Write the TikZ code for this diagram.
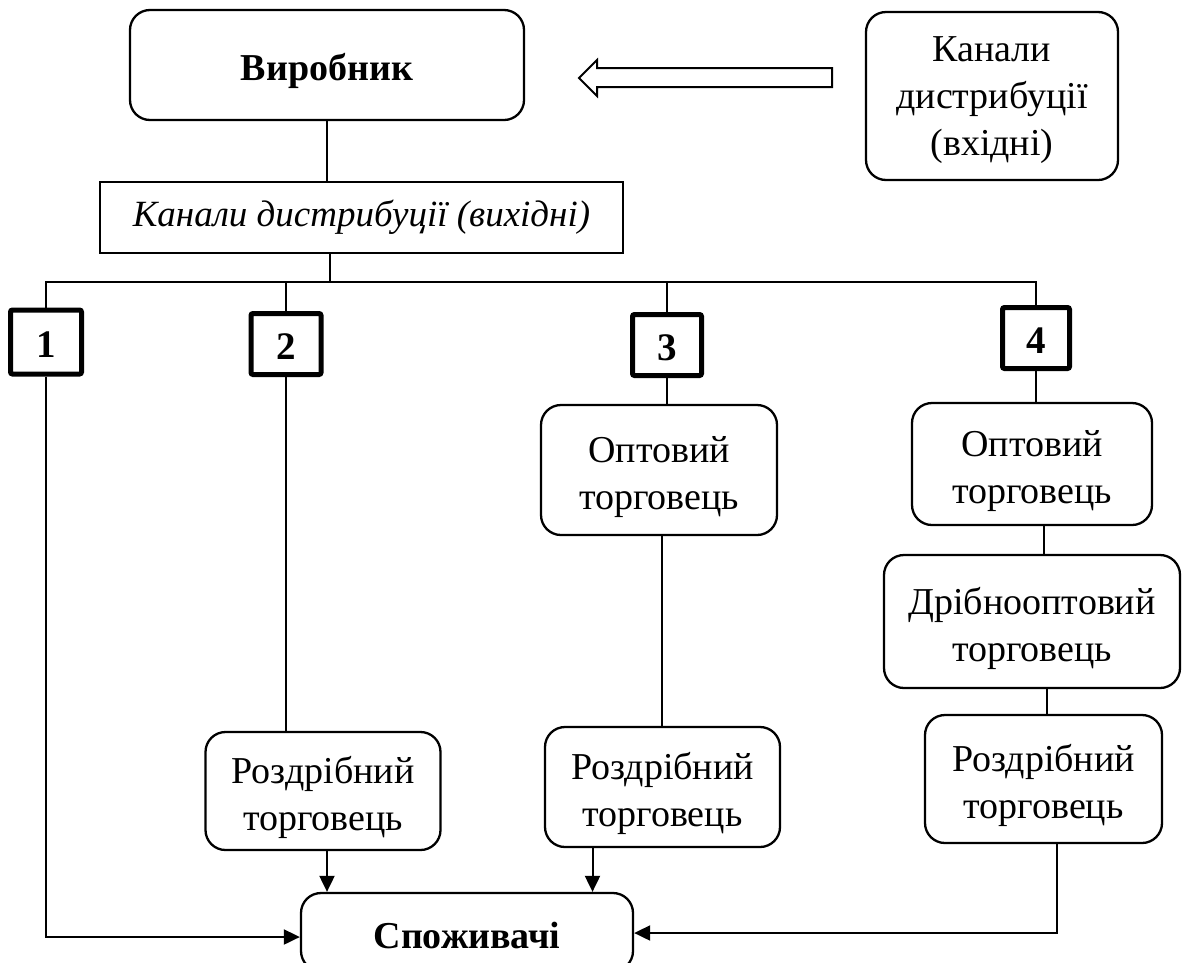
\documentclass[tikz,border=0pt]{standalone}
\usepackage{fontspec}
\setmainfont{Liberation Serif}
\usetikzlibrary{arrows.meta,calc}
\begin{document}
\begin{tikzpicture}[x=1pt,y=-1pt,
  txt/.style={font=\fontsize{38}{47}\selectfont, align=center, inner sep=0pt},
  rbox/.style={draw, line width=2.3pt, rounded corners=20pt, inner sep=0pt},
  sbox/.style={txt, draw, line width=2.3pt},
  numbox/.style={draw, line width=5pt, rounded corners=2pt, inner sep=0pt,
     font=\fontsize{39}{40}\selectfont\bfseries},
  numtxt/.style={label={[inner sep=0pt, font=\fontsize{39}{40}\selectfont\bfseries, yshift=-3pt]center:#1}},
  ln/.style={line width=2pt},
  arr/.style={line width=2pt, -{Triangle[length=16pt,width=15pt]}}
]
\useasboundingbox (0,0) rectangle (1182,962);

\node[rbox, minimum width=394, minimum height=110,
  label={[txt, yshift=-6pt]center:{\bfseries Виробник}}] (prod) at (327,65) {};
\node[rbox, minimum width=252, minimum height=168,
  label={[txt, yshift=-4pt]center:{Канали\\дистрибуції\\(вхідні)}}] (vin) at (992,96) {};
\node[sbox, minimum width=523, minimum height=71, font=\fontsize{37}{42}\selectfont\itshape] (vyh) at (361.5,217.5) {Канали дистрибуції (вихідні)};

\draw[line width=2pt] (832,68) -- (597,68) -- (597,60) -- (579,78) -- (597,96) -- (597,87) -- (832,87) -- cycle;

\draw[ln] (prod.south) -- (prod.south |- vyh.north);

\coordinate (bus) at (330,282);
\node[numbox, minimum width=71, minimum height=64, numtxt=1] (n1) at (46,342) {};
\node[numbox, minimum width=70, minimum height=61, numtxt=2] (n2) at (286,344) {};
\node[numbox, minimum width=69, minimum height=61, numtxt=3] (n3) at (667,345) {};
\node[numbox, minimum width=67, minimum height=61, numtxt=4] (n4) at (1036,338) {};

\draw[ln] (vyh.south -| bus) -- (bus);
\draw[ln] (n1.north) |- (bus) -| (n4.north);
\draw[ln] (n2.north) -- (n2.north |- bus);
\draw[ln] (n3.north) -- (n3.north |- bus);

\node[rbox, minimum width=236, minimum height=130,
  label={[txt, yshift=-7pt]center:{Оптовий\\торговець}}] (o3) at (659,470) {};
\node[rbox, minimum width=235, minimum height=118,
  label={[txt, yshift=-6pt]center:{Роздрібний\\торговець}}] (r2) at (323,791) {};
\node[rbox, minimum width=235, minimum height=120,
  label={[txt, yshift=-6pt]center:{Роздрібний\\торговець}}] (r3) at (662.5,787) {};
\node[rbox, minimum width=240, minimum height=122,
  label={[txt, yshift=-7pt]center:{Оптовий\\торговець}}] (o4) at (1032,464) {};
\node[rbox, minimum width=296, minimum height=133,
  label={[txt, yshift=-7pt]center:{Дрібнооптовий\\торговець}}] (d4) at (1032,621.5) {};
\node[rbox, minimum width=237, minimum height=128,
  label={[txt, yshift=-6pt]center:{Роздрібний\\торговець}}] (r4) at (1043.5,779) {};

\node[rbox, minimum width=332, minimum height=78,
  label={[txt, yshift=-3pt]center:{\bfseries Споживачі}}] (cons) at (467,932) {};

\draw[ln] (n2.south) -- (n2.south |- r2.north);
\draw[ln] (n3.south) -- (n3.south |- o3.north);
\draw[ln] ([xshift=3pt]o3.south) -- ([xshift=3pt]o3.south |- r3.north);
\draw[ln] (n4.south) -- (n4.south |- o4.north);
\draw[ln] ([xshift=12pt]o4.south) -- ([xshift=12pt]o4.south |- d4.north);
\draw[ln] ([xshift=15pt]d4.south) -- ([xshift=15pt]d4.south |- r4.north);

\draw[arr] ([xshift=4pt]r2.south) -- ([xshift=4pt]r2.south |- cons.north);
\draw[arr] ([xshift=-70pt]r3.south) -- ([xshift=-70pt]r3.south |- cons.north);
\draw[arr] (n1.south) |- ([yshift=-5pt]cons.west);
\draw[arr] ([xshift=13pt]r4.south) |- ([yshift=-1pt]cons.east);
\end{tikzpicture}
\end{document}
